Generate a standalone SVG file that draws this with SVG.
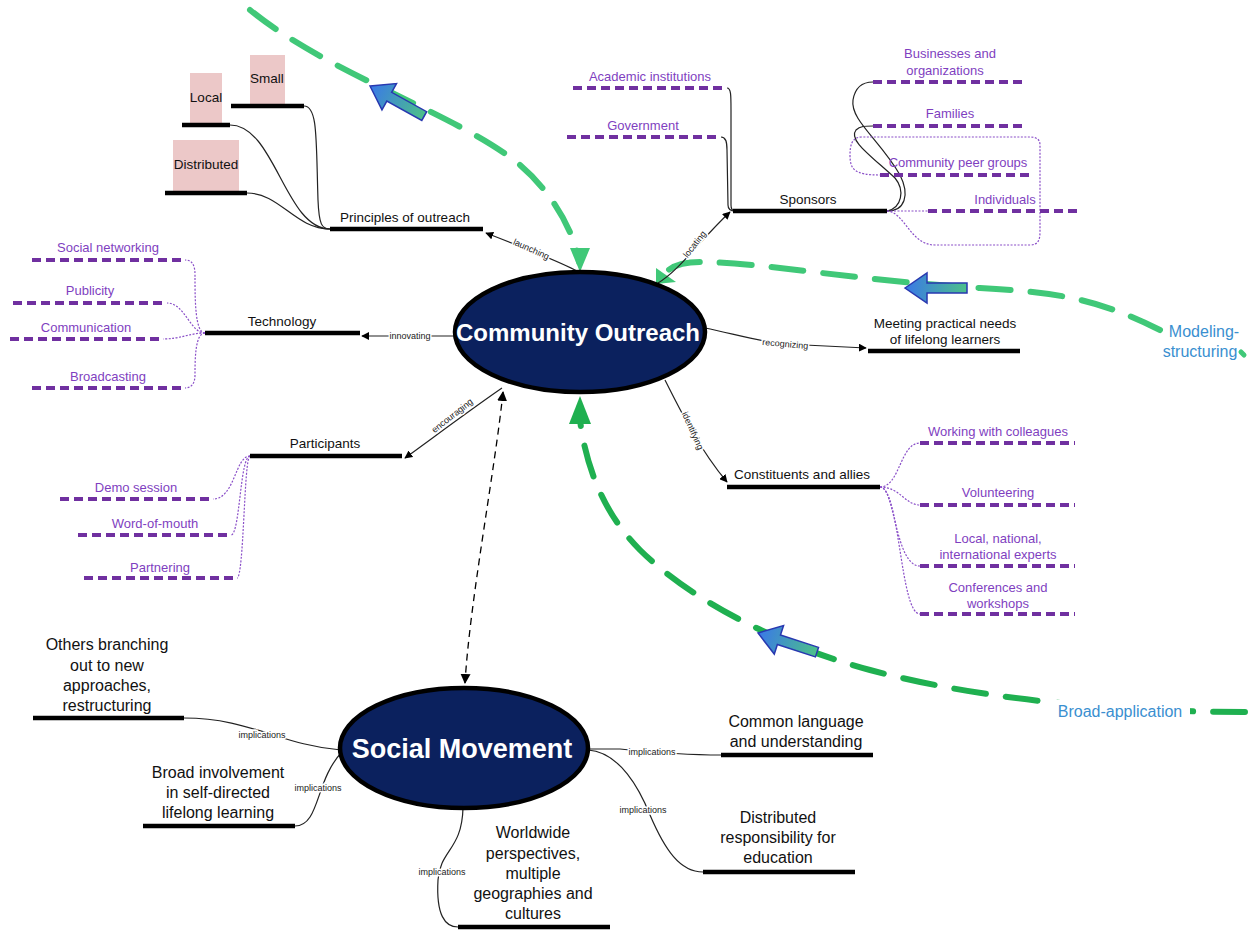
<svg xmlns="http://www.w3.org/2000/svg" width="1255" height="930" viewBox="0 0 1255 930">
  <defs>
    <style>
      text { font-family: "Liberation Sans", Arial, sans-serif; }
      .bar { stroke: #000; stroke-width: 4.5; fill: none; }
      .pbar { stroke: #7030a0; stroke-width: 4; stroke-dasharray: 9 5; fill: none; }
      .lbl { font-size: 13.5px; fill: #111; text-anchor: middle; }
      .plbl { font-size: 13px; fill: #7f3fbf; text-anchor: middle; }
      .big { font-size: 16px; fill: #111; text-anchor: middle; }
      .conn { stroke: #222; stroke-width: 1.2; fill: none; }
      .pconn { stroke: #8a4fc8; stroke-width: 1.2; stroke-dasharray: 2 1.5; fill: none; }
      .rel { font-size: 9px; fill: #222; text-anchor: middle; paint-order: stroke; stroke: #fff; stroke-width: 3px; }
      .pink { fill: #ecc8c8; }
      .hub { fill: #0b215e; stroke: #000; stroke-width: 4.5; }
      .hubtxt { font-weight: bold; fill: #fff; text-anchor: middle; }
      .gflow { fill: none; stroke: #40c878; stroke-width: 6; stroke-dasharray: 32 20; stroke-linecap: round; }
      .gflow2 { fill: none; stroke: #1fb050; stroke-width: 6; stroke-dasharray: 32 20; stroke-linecap: round; }
      .flowlbl { font-size: 16px; fill: #3a8fd0; }
    </style>
    <marker id="tri" viewBox="0 0 10 10" refX="9" refY="5" markerWidth="8" markerHeight="8" orient="auto" markerUnits="userSpaceOnUse">
      <path d="M0,0 L10,5 L0,10 z" fill="#000"/>
    </marker>
    <marker id="tri2" viewBox="0 0 10 10" refX="9" refY="5" markerWidth="10" markerHeight="10" orient="auto-start-reverse" markerUnits="userSpaceOnUse">
      <path d="M0,0 L10,5 L0,10 z" fill="#000"/>
    </marker>
    <linearGradient id="blkfill" x1="0" y1="0" x2="1" y2="0">
      <stop offset="0" stop-color="#3a78e8"/>
      <stop offset="1" stop-color="#4cc08a"/>
    </linearGradient>
    <polygon id="blk" points="0,0 22,-15 22,-5 62,-5 62,5 22,5 22,15" fill="url(#blkfill)" stroke="#2838b0" stroke-width="1.5" stroke-linejoin="miter"/>
  </defs>

  <rect width="1255" height="930" fill="#fff"/>

  <!-- flow arrows in the background -->
  <g id="flows">
    <path class="gflow" d="M250,10 C330,75 460,115 520,165 C555,195 575,235 579,262" />
    <path d="M570,248 L590,248 L580,272 z" fill="#40c878"/>
    <use href="#blk" transform="translate(370,86) rotate(29)"/>

    <path class="gflow" d="M1160,330 C1100,300 1060,292 980,288 C850,280 760,262 700,262 C680,262 668,268 664,275" />
    <path d="M1241,352 L1244,355" fill="none" stroke="#40c878" stroke-width="5" stroke-linecap="round"/>
    <path d="M656,268 L676,282 L656,284 z" fill="#40c878"/>
    <use href="#blk" transform="translate(905,288)"/>
    <text class="flowlbl" x="1204" y="337" text-anchor="middle">Modeling-</text>
    <text class="flowlbl" x="1200" y="357" text-anchor="middle">structuring</text>

    <path class="gflow2" d="M1245,712 C1150,712 1000,705 870,670 C760,640 680,590 640,550 C600,510 585,460 580,420" />
    <path d="M569,424 L591,424 L580,396 z" fill="#1fb050"/>
    <use href="#blk" transform="translate(758,633) rotate(18)"/>
    <rect x="1050" y="700" width="140" height="20" fill="#fff"/>
    <text class="flowlbl" x="1120" y="717" text-anchor="middle">Broad-application</text>
  </g>

  <!-- connectors -->
  <g id="connectors">
    <!-- principles -->
    <path class="conn" d="M230,125 C275,125 285,229 330,229"/>
    <path class="conn" d="M304,106 C318,106 316,140 318,200 C319,225 322,229 330,229"/>
    <path class="conn" d="M247,193 C280,193 295,229 330,229"/>
    <!-- sponsors sources -->
    <path class="conn" d="M727,88 C731,88 731,95 731,110 L731,205 C731,210 733,211 735,211"/>
    <path class="conn" d="M721,137 C726,137 727,142 727,150 L728,205 C728,210 731,211 735,211"/>
    <path class="conn" d="M887,211 C905,211 910,195 900,175 C880,140 850,120 853,100 C855,88 862,82 873,82"/>
    <path class="conn" d="M887,211 C902,208 905,190 895,178 C870,155 848,140 856,130 C860,126 865,126 873,126"/>
    <path class="pconn" d="M887,211 C905,212 910,245 935,245 L1030,245 C1038,245 1040,240 1040,232 L1040,145 C1040,139 1036,137 1030,137 L862,137 C852,137 850,145 850,155 C850,170 855,175 880,175"/>
    <path class="pconn" d="M887,211 L928,211"/>
    <!-- technology -->
    <path class="pconn" d="M205,333 C195,333 195,300 195,275 C195,262 190,260 185,260"/>
    <path class="pconn" d="M205,333 C190,333 185,303 167,303"/>
    <path class="pconn" d="M205,333 C190,333 180,339 163,339"/>
    <path class="pconn" d="M205,333 C195,333 195,360 195,375 C195,385 190,388 185,388"/>
    <!-- participants -->
    <path class="pconn" d="M250,456 C235,456 235,499 213,499"/>
    <path class="pconn" d="M250,456 C240,456 240,535 231,535"/>
    <path class="pconn" d="M250,456 C244,456 244,578 237,578"/>
    <!-- constituents -->
    <path class="pconn" d="M880,487 C900,487 900,443 920,443"/>
    <path class="pconn" d="M880,487 C900,487 905,505 920,505"/>
    <path class="pconn" d="M880,487 C895,487 895,566 920,566"/>
    <path class="pconn" d="M880,487 C900,487 900,614 920,614"/>

    <!-- hub relations -->
    <path class="conn" d="M577,271 C560,262 530,250 486,233" marker-end="url(#tri)"/>
    <text class="rel" transform="translate(530,252) rotate(24)">launching</text>
    <path class="conn" d="M658,283 C680,270 700,240 730,212" marker-end="url(#tri)"/>
    <text class="rel" transform="translate(697,246) rotate(-52)">locating</text>
    <path class="conn" d="M455,336 L362,336" marker-end="url(#tri)"/>
    <text class="rel" x="410" y="339">innovating</text>
    <path class="conn" d="M502,388 C470,410 430,440 405,458" marker-end="url(#tri)"/>
    <text class="rel" transform="translate(454,418) rotate(-38)">encouraging</text>
    <path class="conn" d="M705,328 C740,335 770,345 805,345 L866,348" marker-end="url(#tri)"/>
    <text class="rel" transform="translate(785,347) rotate(5)">recognizing</text>
    <path class="conn" d="M665,380 C680,410 700,450 727,482" marker-end="url(#tri)"/>
    <text class="rel" transform="translate(690,432) rotate(66)">identifying</text>

    <path d="M503,392 C495,470 470,600 465,683" fill="none" stroke="#000" stroke-width="1.3" stroke-dasharray="7 5" marker-start="url(#tri2)" marker-end="url(#tri2)"/>

    <!-- social movement implications -->
    <path class="conn" d="M184,718 C250,718 280,745 341,750"/>
    <text class="rel" x="262" y="738">implications</text>
    <path class="conn" d="M295,826 C320,826 315,780 342,752"/>
    <text class="rel" x="318" y="791">implications</text>
    <path class="conn" d="M463,808 C462,850 440,850 438,880 C436,915 445,927 458,927"/>
    <text class="rel" x="442" y="875">implications</text>
    <path class="conn" d="M588,749 L620,749 C650,752 680,755 721,755"/>
    <text class="rel" x="652" y="755">implications</text>
    <path class="conn" d="M588,750 C620,752 640,790 650,815 C665,850 680,872 703,872"/>
    <text class="rel" x="643" y="813">implications</text>
  </g>

  <!-- hubs -->
  <g id="community-outreach">
    <ellipse class="hub" cx="580" cy="332" rx="125" ry="60"/>
    <text class="hubtxt" x="578" y="341" font-size="24">Community Outreach</text>
  </g>
  <g id="social-movement">
    <ellipse class="hub" cx="464" cy="748" rx="124" ry="60"/>
    <text class="hubtxt" x="462" y="758" font-size="27">Social Movement</text>
  </g>

  <!-- principles of outreach -->
  <g id="principles">
    <line class="bar" x1="330" y1="229" x2="483" y2="229"/>
    <text class="lbl" x="405" y="222">Principles of outreach</text>
  </g>
  <g id="local">
    <rect class="pink" x="190" y="73" width="32" height="52"/>
    <line class="bar" x1="182" y1="125" x2="230" y2="125"/>
    <text class="lbl" x="206" y="102">Local</text>
  </g>
  <g id="small">
    <rect class="pink" x="250" y="55" width="35" height="50"/>
    <line class="bar" x1="231" y1="106" x2="304" y2="106"/>
    <text class="lbl" x="267" y="83">Small</text>
  </g>
  <g id="distributed">
    <rect class="pink" x="173" y="140" width="66" height="51"/>
    <line class="bar" x1="165" y1="193" x2="247" y2="193"/>
    <text class="lbl" x="206" y="169">Distributed</text>
  </g>

  <!-- technology -->
  <g id="technology">
    <line class="bar" x1="205" y1="333" x2="360" y2="333"/>
    <text class="lbl" x="282" y="326">Technology</text>
  </g>
  <g id="social-networking">
    <line class="pbar" x1="32" y1="260" x2="185" y2="260"/>
    <text class="plbl" x="108" y="252">Social networking</text>
  </g>
  <g id="publicity">
    <line class="pbar" x1="13" y1="303" x2="167" y2="303"/>
    <text class="plbl" x="90" y="295">Publicity</text>
  </g>
  <g id="communication">
    <line class="pbar" x1="10" y1="339" x2="163" y2="339"/>
    <text class="plbl" x="86" y="332">Communication</text>
  </g>
  <g id="broadcasting">
    <line class="pbar" x1="32" y1="388" x2="185" y2="388"/>
    <text class="plbl" x="108" y="381">Broadcasting</text>
  </g>

  <!-- participants -->
  <g id="participants">
    <line class="bar" x1="250" y1="456" x2="402" y2="456"/>
    <text class="lbl" x="325" y="448">Participants</text>
  </g>
  <g id="demo-session">
    <line class="pbar" x1="60" y1="499" x2="213" y2="499"/>
    <text class="plbl" x="136" y="492">Demo session</text>
  </g>
  <g id="word-of-mouth">
    <line class="pbar" x1="78" y1="535" x2="231" y2="535"/>
    <text class="plbl" x="155" y="528">Word-of-mouth</text>
  </g>
  <g id="partnering">
    <line class="pbar" x1="84" y1="578" x2="237" y2="578"/>
    <text class="plbl" x="160" y="572">Partnering</text>
  </g>

  <!-- sponsors -->
  <g id="sponsors">
    <line class="bar" x1="733" y1="211" x2="887" y2="211"/>
    <text class="lbl" x="808" y="204">Sponsors</text>
  </g>
  <g id="academic">
    <line class="pbar" x1="573" y1="88" x2="727" y2="88"/>
    <text class="plbl" x="650" y="81">Academic institutions</text>
  </g>
  <g id="government">
    <line class="pbar" x1="567" y1="137" x2="721" y2="137"/>
    <text class="plbl" x="643" y="130">Government</text>
  </g>
  <g id="businesses">
    <line class="pbar" x1="873" y1="82" x2="1027" y2="82"/>
    <text class="plbl" x="950" y="58">Businesses and</text>
    <text class="plbl" x="945" y="75">organizations</text>
  </g>
  <g id="families">
    <line class="pbar" x1="873" y1="126" x2="1027" y2="126"/>
    <text class="plbl" x="950" y="118">Families</text>
  </g>
  <g id="community-peer-groups">
    <line class="pbar" x1="880" y1="175" x2="1033" y2="175"/>
    <text class="plbl" x="958" y="167">Community peer groups</text>
  </g>
  <g id="individuals">
    <line class="pbar" x1="928" y1="211" x2="1082" y2="211"/>
    <text class="plbl" x="1005" y="204">Individuals</text>
  </g>

  <!-- practical needs -->
  <g id="practical-needs">
    <line class="bar" x1="868" y1="351" x2="1020" y2="351"/>
    <text class="lbl" x="945" y="328">Meeting practical needs</text>
    <text class="lbl" x="945" y="344">of lifelong learners</text>
  </g>

  <!-- constituents -->
  <g id="constituents">
    <line class="bar" x1="727" y1="487" x2="880" y2="487"/>
    <text class="lbl" x="802" y="479">Constituents and allies</text>
  </g>
  <g id="colleagues">
    <line class="pbar" x1="920" y1="443" x2="1075" y2="443"/>
    <text class="plbl" x="998" y="436">Working with colleagues</text>
  </g>
  <g id="volunteering">
    <line class="pbar" x1="920" y1="505" x2="1075" y2="505"/>
    <text class="plbl" x="998" y="497">Volunteering</text>
  </g>
  <g id="experts">
    <line class="pbar" x1="920" y1="566" x2="1075" y2="566"/>
    <text class="plbl" x="998" y="543">Local, national,</text>
    <text class="plbl" x="998" y="559">international experts</text>
  </g>
  <g id="conferences">
    <line class="pbar" x1="920" y1="614" x2="1075" y2="614"/>
    <text class="plbl" x="998" y="592">Conferences and</text>
    <text class="plbl" x="998" y="608">workshops</text>
  </g>

  <!-- social movement implications -->
  <g id="branching">
    <line class="bar" x1="33" y1="718" x2="184" y2="718"/>
    <text class="big" x="107" y="650">Others branching</text>
    <text class="big" x="107" y="671">out to new</text>
    <text class="big" x="107" y="691">approaches,</text>
    <text class="big" x="107" y="711">restructuring</text>
  </g>
  <g id="broad-involvement">
    <line class="bar" x1="143" y1="826" x2="295" y2="826"/>
    <text class="big" x="218" y="778">Broad involvement</text>
    <text class="big" x="218" y="798">in self-directed</text>
    <text class="big" x="218" y="818">lifelong learning</text>
  </g>
  <g id="worldwide">
    <line class="bar" x1="458" y1="927" x2="610" y2="927"/>
    <text class="big" x="533" y="838">Worldwide</text>
    <text class="big" x="533" y="859">perspectives,</text>
    <text class="big" x="533" y="879">multiple</text>
    <text class="big" x="533" y="899">geographies and</text>
    <text class="big" x="533" y="919">cultures</text>
  </g>
  <g id="common-language">
    <line class="bar" x1="721" y1="755" x2="873" y2="755"/>
    <text class="big" x="796" y="727">Common language</text>
    <text class="big" x="796" y="747">and understanding</text>
  </g>
  <g id="distributed-responsibility">
    <line class="bar" x1="703" y1="872" x2="855" y2="872"/>
    <text class="big" x="778" y="823">Distributed</text>
    <text class="big" x="778" y="843">responsibility for</text>
    <text class="big" x="778" y="863">education</text>
  </g>
</svg>
